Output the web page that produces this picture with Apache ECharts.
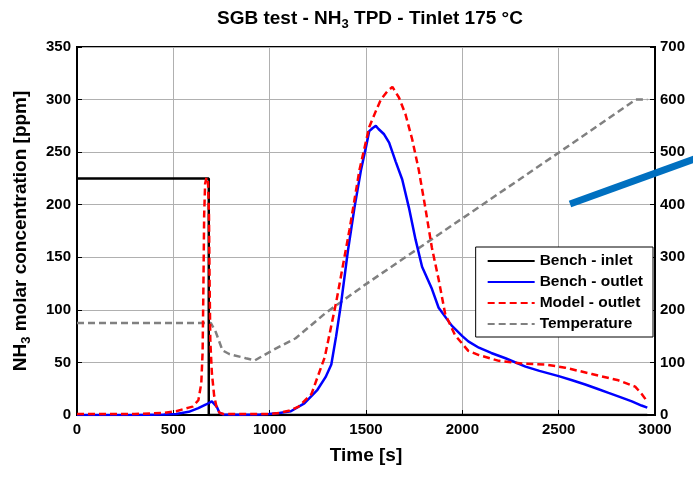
<!DOCTYPE html>
<html>
<head>
<meta charset="utf-8">
<script src="https://cdn.jsdelivr.net/npm/echarts@6/dist/echarts.min.js"></script>
<style>html,body{margin:0;padding:0;background:#fff;}#c{width:693px;height:491px;}</style>
</head>
<body>
<div id="c"></div>
<script>
// Bench - inlet
const inletTime = [0, 684, 684, 2960];
const inletPpm  = [225, 225, 0, 0];
// Bench - outlet
const outletTime = [0,300,450,515,580,630,670,700,710,725,740,760,850,950,996,1050,1110,1180,1248,1290,1320,1345,1372,1406,1440,1474,1500,1517,1535,1551,1565,1594,1620,1654,1688,1723,1757,1791,1842,1877,1945,2000,2031,2086,2150,2224,2328,2400,2500,2570,2638,2700,2759,2820,2880,2930,2960];
const outletPpm  = [0,0,0.5,1,3,6.5,10,13,14,8,2,0.5,0.3,0.5,1,2,3.6,11,24,36,48,75,108,156,197,233,255,270,273,275,272,267,259,241,224,197,167,141,120,102,85,75,70,64,59,54,46,42,37,33,29,25,21,17,13,9,7];
// Model - outlet
const modelTime = [0,300,450,515,580,600,630,645,652,656,660,665,672,680,685,688,692,700,712,725,740,760,850,1000,1050,1100,1150,1217,1286,1346,1414,1466,1517,1551,1577,1611,1637,1671,1705,1740,1774,1808,1842,1877,1911,1962,2031,2086,2190,2310,2431,2534,2672,2810,2897,2931,2955];
const modelPpm  = [1,1,2,3.6,7,8,14,30,60,120,190,220,226,222,190,130,70,40,18,7,2,1,1,1,2,4,8,20,55,108,176,233,274,289,300,308,312,302,286,262,233,197,159,129,96,76,61,57,51.5,49,48,45,39,33,27,20,14];
// Temperature (right axis, °C)
const tempTime = [0,695,720,755,790,876,924,1014,1135,1290,1500,2000,2500,2900,2960];
const tempC    = [175,175,158,123,116,108,104,123,146,194,249,374,499,600,600];

const xTicks = {min: 0, max: 3000, interval: 500};
const leftTicks = {min: 0, max: 350, interval: 50};
const rightTicks = {min: 0, max: 700, interval: 100};

const pairs = (a, b) => a.map((v, i) => [v, b[i]]);

const FONT = '"Liberation Sans", Arial, sans-serif';
const chart = echarts.init(document.getElementById('c'), null, {renderer: 'canvas'});
const tickLabel = {color: '#000', fontFamily: FONT, fontWeight: 'bold', fontSize: 15, formatter: v => String(v)};
const subStyle = {fontSize: 13, lineHeight: 13, padding: [11, 0, 0, 0], fontWeight: 'bold', fontFamily: FONT, color: '#000'};

chart.setOption({
  animation: false,
  backgroundColor: '#fff',
  title: {
    text: 'SGB test - NH{sub|3} TPD - Tinlet 175 °C',
    left: 212, top: 4,
    textStyle: {fontFamily: FONT, fontWeight: 'bold', fontSize: 19, color: '#000', rich: {sub: subStyle}}
  },
  grid: {left: 77, right: 38, top: 47, bottom: 76, show: true, borderColor: '#000', borderWidth: 2, backgroundColor: '#fff'},
  legend: {
    orient: 'vertical', right: 40, top: 247,
    backgroundColor: '#fff', borderColor: '#000', borderWidth: 1, borderRadius: 0,
    padding: [6, 10, 5, 11], itemGap: 5, itemWidth: 47, itemHeight: 14,
    itemStyle: {opacity: 0},
    textStyle: {fontFamily: FONT, fontWeight: 'bold', fontSize: 15.5, color: '#000'},
    data: ['Bench - inlet', 'Bench - outlet', 'Model - outlet', 'Temperature']
  },
  xAxis: {
    type: 'value', min: xTicks.min, max: xTicks.max, interval: xTicks.interval,
    name: 'Time [s]', nameLocation: 'middle', nameGap: 31,
    nameTextStyle: {fontFamily: FONT, fontWeight: 'bold', fontSize: 19, color: '#000'},
    axisLine: {show: true, lineStyle: {color: '#000', width: 2}},
    axisTick: {show: true, inside: true, length: 5, lineStyle: {color: '#000'}},
    axisLabel: Object.assign({margin: 7}, tickLabel),
    splitLine: {show: true, lineStyle: {color: '#b0b0b0', width: 1}}
  },
  yAxis: [{
    type: 'value', min: leftTicks.min, max: leftTicks.max, interval: leftTicks.interval,
    name: 'NH{sub|3} molar concentration [ppm]', nameLocation: 'middle', nameGap: 47, nameRotate: 90,
    nameTextStyle: {fontFamily: FONT, fontWeight: 'bold', fontSize: 19, color: '#000', rich: {sub: subStyle}},
    axisLine: {show: true, lineStyle: {color: '#000', width: 2}},
    axisTick: {show: true, inside: true, length: 5, lineStyle: {color: '#000'}},
    axisLabel: Object.assign({margin: 6}, tickLabel),
    splitLine: {show: true, lineStyle: {color: '#b0b0b0', width: 1}}
  }, {
    type: 'value', min: rightTicks.min, max: rightTicks.max, interval: rightTicks.interval, position: 'right',
    axisLine: {show: true, lineStyle: {color: '#000', width: 2}},
    axisTick: {show: true, inside: true, length: 5, lineStyle: {color: '#000'}},
    axisLabel: Object.assign({margin: 5}, tickLabel),
    splitLine: {show: false}
  }],
  series: [
    {name: 'Bench - inlet', type: 'line', data: pairs(inletTime, inletPpm), showSymbol: false, symbol: 'none',
     lineStyle: {color: '#000', width: 2.5}, itemStyle: {color: '#000'}, z: 3},
    {name: 'Bench - outlet', type: 'line', data: pairs(outletTime, outletPpm), showSymbol: false, symbol: 'none',
     lineStyle: {color: '#0000ff', width: 2.5}, itemStyle: {color: '#0000ff'}, z: 4},
    {name: 'Model - outlet', type: 'line', data: pairs(modelTime, modelPpm), showSymbol: false, symbol: 'none',
     lineStyle: {color: '#ff0000', width: 2.5, type: [7, 4]}, itemStyle: {color: '#ff0000'}, z: 5},
    {name: 'Temperature', type: 'line', yAxisIndex: 1, data: pairs(tempTime, tempC), showSymbol: false, symbol: 'none',
     lineStyle: {color: '#808080', width: 2.5, type: [7, 4]}, itemStyle: {color: '#808080'}, z: 2}
  ],
  graphic: [{
    type: 'line', z: 100,
    shape: {x1: 570, y1: 204, x2: 700, y2: 157},
    style: {stroke: '#0070c0', lineWidth: 7}
  }]
});
</script>
</body>
</html>
